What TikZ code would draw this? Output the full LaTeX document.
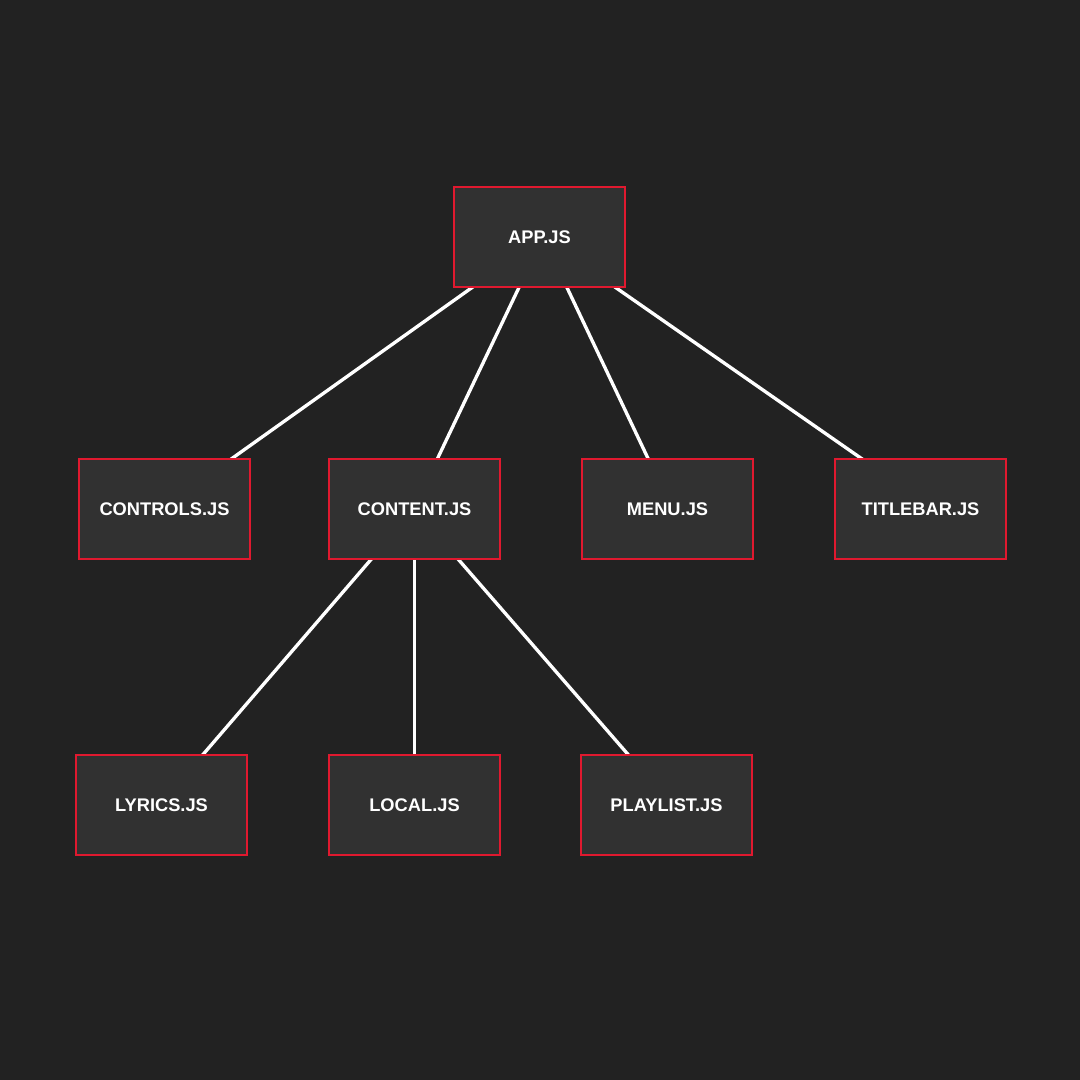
\documentclass[tikz,border=0pt]{standalone}
\usepackage{fontspec}
\setmainfont{Liberation Sans}
\usetikzlibrary{backgrounds}
\definecolor{bgdark}{HTML}{222222}
\definecolor{boxfill}{HTML}{313131}
\definecolor{boxred}{HTML}{E0192F}
\tikzset{
	filebox/.style={draw=boxred, fill=boxfill, line width=0.35pt,
		minimum width=1.71cm, minimum height=1cm, inner sep=0pt,
		text=white, font=\fontsize{5.2}{6}\selectfont\bfseries},
	link/.style={white, line width=0.95pt}
}
\begin{document}
\begin{tikzpicture}[yscale=-1]
		\node[filebox] (app) at (5.395, 2.37) {APP.JS};
		\node[filebox] (controls) at (1.645, 5.09) {CONTROLS.JS};
		\node[filebox] (content) at (4.145, 5.09) {CONTENT.JS};
		\node[filebox] (menu) at (6.675, 5.09) {MENU.JS};
		\node[filebox] (titlebar) at (9.205, 5.09) {TITLEBAR.JS};
		\node[filebox] (lyrics) at (1.615, 8.05) {LYRICS.JS};
		\node[filebox] (local) at (4.145, 8.05) {LOCAL.JS};
		\node[filebox] (playlist) at (6.665, 8.05) {PLAYLIST.JS};
		% backdrop and links sit under the boxes, links aimed a little off centre
		\begin{pgfonlayer}{background}
			\fill[bgdark] (0, 0) rectangle (10.8, 10.8);
			\foreach \child/\dx in {controls/-0.035, content/-0.01, menu/0.045, titlebar/0.135}
				\draw[link] ([xshift=0.035cm]app.center) -- ([xshift=\dx cm]\child.center);
			\foreach \child/\dx in {lyrics/-0.02, local/0, playlist/0.055}
				\draw[link] (content.center) -- ([xshift=\dx cm]\child.center);
		\end{pgfonlayer}
	\end{tikzpicture}
\end{document}
